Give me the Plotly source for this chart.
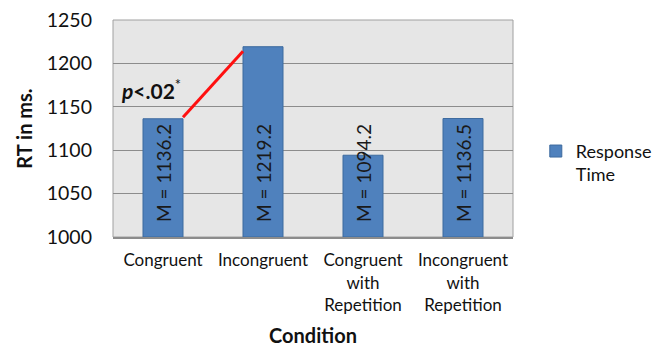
import plotly.graph_objects as go

categories = ["Congruent", "Incongruent", "Congruent<br>with<br>Repetition", "Incongruent<br>with<br>Repetition"]
values = [1136.2, 1219.2, 1094.2, 1136.5]
labels = ["M = 1136.2", "M = 1219.2", "M = 1094.2", "M = 1136.5"]
y_ticks = [1000, 1050, 1100, 1150, 1200, 1250]
series_name = "Response<br>Time"
sig_text = "<b><i>p</i>&lt;.02</b><sup>*</sup>"
sig_line_y = [1138, 1214]

FONT = "Lato"
xs = list(range(len(categories)))

fig = go.Figure()
fig.add_trace(go.Bar(
    x=xs,
    y=[v - y_ticks[0] for v in values],
    base=y_ticks[0],
    name=series_name,
    marker=dict(color="#4F81BD", line=dict(color="#3C6A9E", width=1)),
    width=0.4,
    showlegend=True,
    hoverinfo="skip",
))

for xi, lab in zip(xs, labels):
    fig.add_annotation(x=xi, y=y_ticks[0], xref="x", yref="y", text=lab,
                       textangle=-90, yanchor="bottom", xanchor="center",
                       yshift=13, showarrow=False,
                       font=dict(family=FONT, size=19, color="#1a1a1a"))

fig.add_shape(type="line", xref="x", yref="y",
              x0=0.2, y0=sig_line_y[0], x1=0.8, y1=sig_line_y[1],
              line=dict(color="#FF1010", width=3))
fig.add_annotation(x=-0.12, y=1170, xref="x", yref="y", text=sig_text,
                   showarrow=False, font=dict(family=FONT, size=21, color="#111"))

fig.update_layout(
    width=660, height=339,
    margin=dict(l=105, r=155, t=12, b=110, autoexpand=False),
    paper_bgcolor="white",
    plot_bgcolor="#E6E6E6",
    font=dict(family=FONT, color="#111"),
    xaxis=dict(
        tickmode="array", tickvals=xs, ticktext=categories,
        range=[-0.5, 3.5], showgrid=False, zeroline=False, automargin=False,
        showline=True, linecolor="#8C8C8C", linewidth=2, mirror=False,
        ticks="outside", ticklen=7, tickcolor="rgba(0,0,0,0)",
        tickfont=dict(family=FONT, size=17, color="#111"),
        title=dict(text="<b>Condition</b>", font=dict(family=FONT, size=20, color="#111"), standoff=19),
    ),
    yaxis=dict(
        range=[y_ticks[0], y_ticks[-1]], tickmode="array", tickvals=y_ticks,
        showgrid=True, gridcolor="#8C8C8C", gridwidth=1, zeroline=False, automargin=False,
        showline=False, ticks="", ticklabelstandoff=20, ticklabeloverflow="allow",
        tickfont=dict(family=FONT, size=19.5, color="#111"),
        title=dict(text="<b>RT in ms.</b>", font=dict(family=FONT, size=20, color="#111"), standoff=8),
    ),
    legend=dict(x=1.057, xanchor="left", y=0.48, yanchor="top",
                font=dict(family=FONT, size=18, color="#111"), valign="top",
                bgcolor="rgba(0,0,0,0)"),
)
fig.add_shape(type="rect", xref="paper", yref="paper", x0=0, y0=0, x1=1, y1=1,
              line=dict(color="#A0A0A0", width=1), layer="below")

fig.write_html("out.html")
